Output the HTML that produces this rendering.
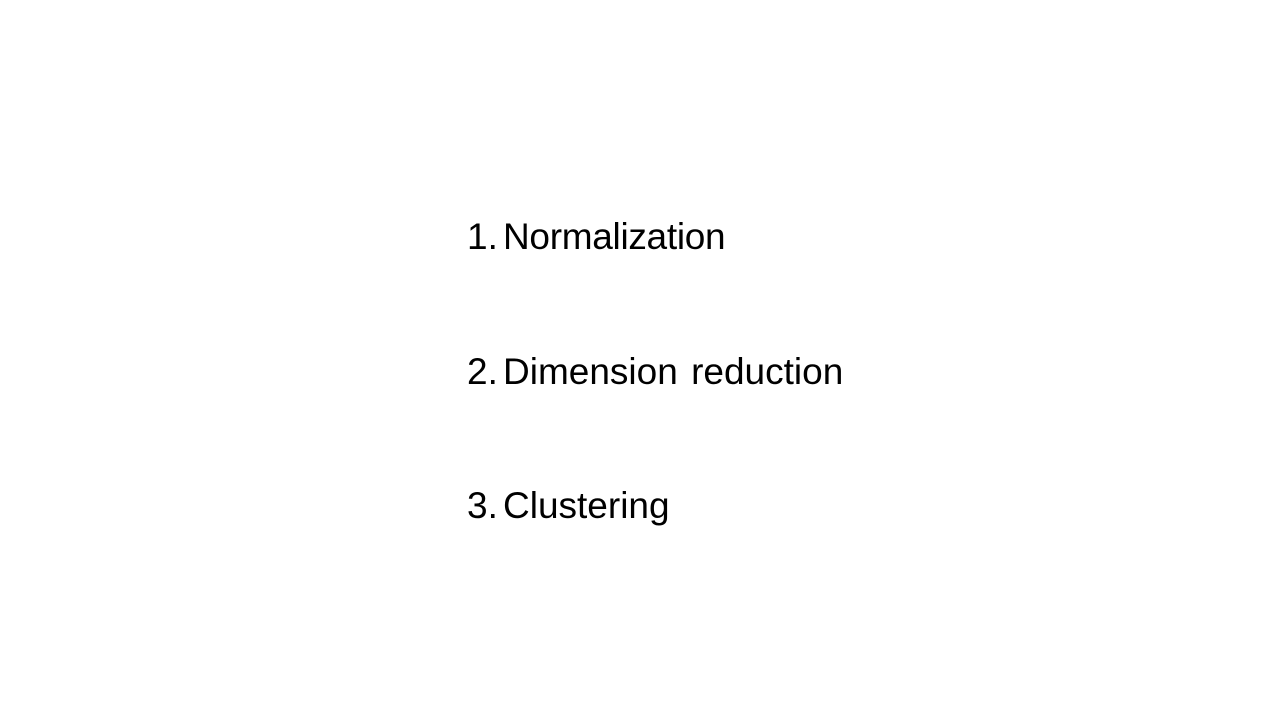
<!DOCTYPE html>
<html><head><style>
body{margin:0;width:1280px;height:720px;background:#fff;position:relative;overflow:hidden;font-family:"Liberation Sans",Arial,sans-serif;}
.l{position:absolute;font-size:37px;line-height:1;color:#000;white-space:nowrap;}
.n{left:467px}.t{left:503px}
</style></head><body>
<div class="l n" style="top:218px">1.</div><div class="l t" style="top:218px;letter-spacing:-0.3px">Normalization</div>
<div class="l n" style="top:353px">2.</div><div class="l t" style="top:353px;word-spacing:3px">Dimension reduction</div>
<div class="l n" style="top:487px">3.</div><div class="l t" style="top:487px">Clustering</div>
</body></html>
